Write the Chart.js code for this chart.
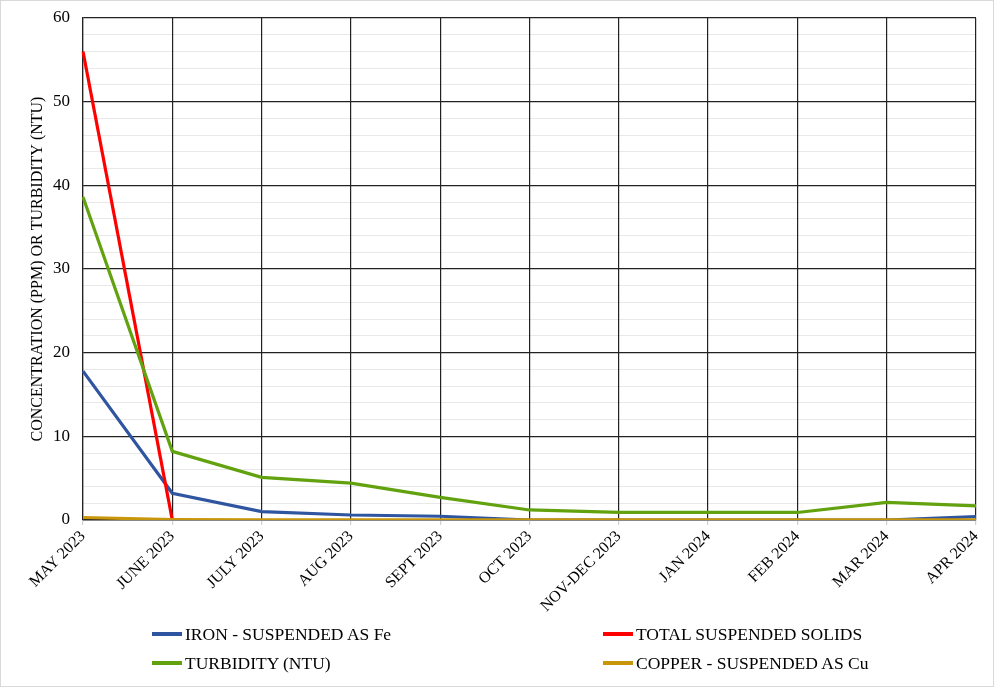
<!DOCTYPE html>
<html>
<head>
<meta charset="utf-8">
<script src="https://cdn.jsdelivr.net/npm/chart.js@4/dist/chart.umd.min.js"></script>
<style>
  html, body { margin: 0; padding: 0; background: #fff; }
  #wrap { position: relative; width: 994px; height: 687px; box-sizing: border-box; border: 1px solid #d9d9d9; }
  canvas { position: absolute; left: 0; top: 0; }
  .leg { position: absolute; font-family: "Liberation Serif", "Times New Roman", serif; font-size: 17.5px; color: #000; white-space: nowrap; display: flex; align-items: center; line-height: 20px; }
  .leg i { display: inline-block; width: 30px; height: 4px; margin-right: 3px; }
</style>
</head>
<body>
<div id="wrap">
  <canvas id="c" width="992" height="685"></canvas>
  <div id="legend"></div>
</div>
<script>
// Monthly water-quality readings
const months = ['MAY 2023', 'JUNE 2023', 'JULY 2023', 'AUG 2023', 'SEPT 2023', 'OCT 2023',
                'NOV-DEC 2023', 'JAN 2024', 'FEB 2024', 'MAR 2024', 'APR 2024'];
const ironFe   = [17.8, 3.2, 1.0, 0.6, 0.45, 0.0, 0.0, 0.0, 0.0, 0.0, 0.4];
const tss      = [56.0, 0.0, null, null, null, null, null, null, null, null, null];
const turbidity = [38.6, 8.2, 5.1, 4.4, 2.7, 1.2, 0.9, 0.9, 0.9, 2.1, 1.7];
const copperCu = [0.3, 0.05, 0.03, 0.03, 0.03, 0.03, 0.03, 0.03, 0.03, 0.03, 0.03];
const yTicks   = [0, 10, 20, 30, 40, 50, 60];

const seriesNames = ['IRON - SUSPENDED AS Fe', 'TOTAL SUSPENDED SOLIDS', 'TURBIDITY (NTU)', 'COPPER - SUSPENDED AS Cu'];
const seriesColors = ['#2F55A0', '#FF0000', '#62A20E', '#C8960A'];

const serif = '"Liberation Serif", "Times New Roman", serif';

const ds = (label, data, color, order) => ({
  label, data, borderColor: color, backgroundColor: color,
  borderWidth: 3.2, pointRadius: 0, tension: 0, order, spanGaps: false
});

new Chart(document.getElementById('c'), {
  type: 'line',
  data: {
    labels: months,
    datasets: [
      ds(seriesNames[0], ironFe, seriesColors[0], 3),
      ds(seriesNames[1], tss, seriesColors[1], 2),
      ds(seriesNames[2], turbidity, seriesColors[2], 1),
      ds(seriesNames[3], copperCu, seriesColors[3], 0)
    ]
  },
  options: {
    responsive: false,
    animation: false,
    layout: { padding: { top: 17, right: 17, left: 0, bottom: 0 } },
    plugins: { legend: { display: false }, tooltip: { enabled: false } },
    scales: {
      x: {
        offset: false,
        grid: {
          color: '#222', lineWidth: 1.2, drawTicks: true, tickLength: 5, tickColor: '#d0d0d0'
        },
        border: { color: '#888', width: 1 },
        ticks: {
          autoSkip: false, maxRotation: 45, minRotation: 45, padding: 2,
          color: '#000', font: { family: serif, size: 16 }
        },
        afterFit(scale) { scale.height = 166; }
      },
      y: {
        min: 0, max: 60,
        grid: {
          color: ctx => (ctx.tick && yTicks.includes(ctx.tick.value)) ? '#222' : 'rgba(0,0,0,0.09)',
          lineWidth: ctx => (ctx.tick && yTicks.includes(ctx.tick.value)) ? 1.2 : 1,
          drawTicks: false
        },
        border: { color: '#222', width: 1.2 },
        ticks: {
          stepSize: 2, autoSkip: false, padding: 13, color: '#000', font: { family: serif, size: 17 },
          callback: v => yTicks.includes(v) ? String(v) : ''
        },
        title: {
          display: true, text: 'CONCENTRATION (PPM) OR TURBIDITY (NTU)',
          color: '#000', font: { family: serif, size: 16 }, padding: { top: 27, bottom: 0 }
        },
        afterFit(scale) {
          scale.width = 82;
          scale.paddingTop = 0;
          scale.paddingBottom = 0;
        }
      }
    }
  }
});

// Two-column legend below the axis
const legendPos = [[151, 623], [602, 623], [151, 652], [602, 652]];
const legend = document.getElementById('legend');
[0, 1, 2, 3].forEach((k, i) => {
  const el = document.createElement('div');
  el.className = 'leg';
  el.style.left = legendPos[i][0] + 'px';
  el.style.top = legendPos[i][1] + 'px';
  el.innerHTML = '<i style="background:' + seriesColors[k] + '"></i>' + seriesNames[k];
  legend.appendChild(el);
});
</script>
</body>
</html>
